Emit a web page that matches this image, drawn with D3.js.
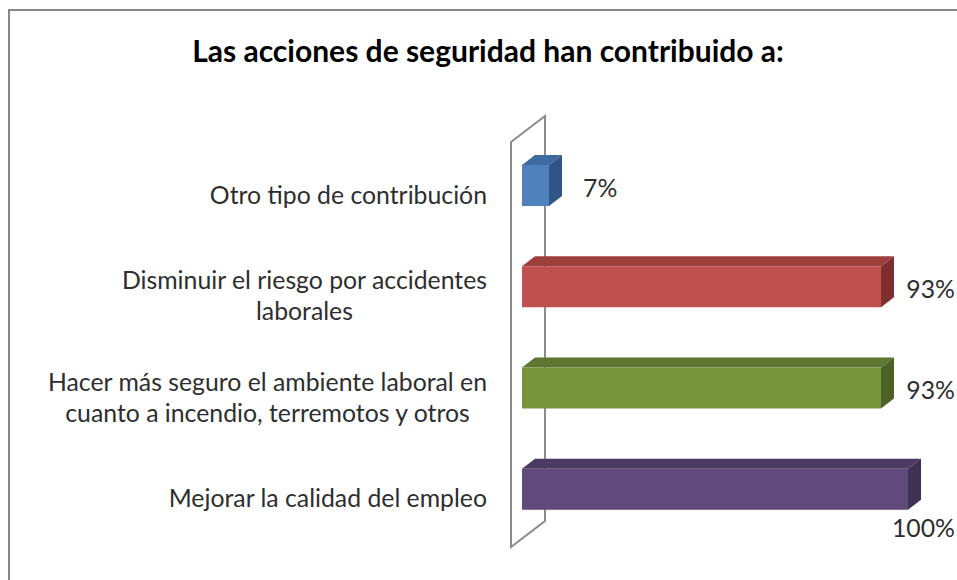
<!DOCTYPE html>
<html>
<head>
<meta charset="utf-8">
<script src="https://cdn.jsdelivr.net/npm/d3@7"></script>
<style>
  body { margin: 0; background: #fff; }
  svg text { font-family: Lato, "Open Sans", sans-serif; fill: #2e2e2e; }
</style>
</head>
<body>
<div id="chart"></div>
<script>
// data
const title = 'Las acciones de seguridad han contribuido a:';
const categories = [
  ['Otro tipo de contribución'],
  ['Disminuir el riesgo por accidentes', 'laborales'],
  ['Hacer más seguro el ambiente laboral en', 'cuanto a incendio, terremotos y otros'],
  ['Mejorar la calidad del empleo']
];
const values = [0.07, 0.93, 0.93, 1.00];
const valueLabels = ['7%', '93%', '93%', '100%'];

// face colours: front, top, side
const frontColors = ['#4f81bd', '#c0504d', '#77933c', '#604a7b'];
const topColors = ['#3e6aa2', '#9d3f3d', '#5f7630', '#4b3b62'];
const sideColors = ['#2f5586', '#7f302e', '#4d6127', '#3e3152'];

const W = 957, H = 580;
const svg = d3.select('#chart').append('svg').attr('width', W).attr('height', H);

// chart border
svg.append('rect')
  .attr('x', 9).attr('y', 10).attr('width', 1000).attr('height', 700)
  .attr('fill', 'none').attr('stroke', '#878787').attr('stroke-width', 2);

svg.append('text')
  .attr('x', 488).attr('y', 62)
  .attr('text-anchor', 'middle')
  .style('font-size', '30px').style('font-weight', 'bold').style('fill', '#000')
  .text(title);

const x = d3.scaleLinear().domain([0, 1]).range([522, 908]);
const y = d3.scaleBand().domain(d3.range(categories.length)).range([142, 547]);

const wallDx = 34, wallDy = -26;
const barDx = 13, barDy = -10;
const barOff = 23, barH = 41;
const fs = '24.8px';

// thin 3D wall
const x0 = 511, yTop = y.range()[0], yBot = y.range()[1];
svg.append('path')
  .attr('d', `M${x0},${yTop}L${x0 + wallDx},${yTop + wallDy}L${x0 + wallDx},${yBot + wallDy}L${x0},${yBot}Z`)
  .attr('fill', 'none').attr('stroke', '#8c8c8c').attr('stroke-width', 2);

// bars
const bars = svg.selectAll('g.bar')
  .data(values)
  .enter().append('g').attr('class', 'bar');

bars.append('path')
  .attr('fill', (d, i) => topColors[i])
  .attr('d', (d, i) => {
    const x1 = x(0), x2 = x(d), y1 = y(i) + barOff;
    return `M${x1},${y1}L${x1 + barDx},${y1 + barDy}L${x2 + barDx},${y1 + barDy}L${x2},${y1}Z`;
  });

bars.append('path')
  .attr('fill', (d, i) => sideColors[i])
  .attr('d', (d, i) => {
    const x2 = x(d), y1 = y(i) + barOff;
    return `M${x2},${y1}L${x2 + barDx},${y1 + barDy}L${x2 + barDx},${y1 + barH + barDy}L${x2},${y1 + barH}Z`;
  });

bars.append('rect')
  .attr('fill', (d, i) => frontColors[i])
  .attr('x', x(0))
  .attr('y', (d, i) => y(i) + barOff)
  .attr('width', d => x(d) - x(0))
  .attr('height', barH);

// category labels, centred block, right edge at 487
const lineH = 31;
categories.forEach((lines, i) => {
  const cy = y(i) + y.bandwidth() / 2;
  const t = svg.append('text')
    .attr('text-anchor', 'middle')
    .style('font-size', fs);
  lines.forEach((ln, j) => {
    t.append('tspan')
      .attr('x', 0)
      .attr('y', cy + 11 + (j - (lines.length - 1) / 2) * lineH)
      .text(ln);
  });
  const w = t.node().getBBox().width;
  t.selectAll('tspan').attr('x', 487 - w / 2);
});

// value labels
svg.selectAll('text.val')
  .data(values)
  .enter().append('text')
  .attr('class', 'val')
  .style('font-size', fs)
  .attr('y', (d, i) => d >= 1 ? y(i) + barOff + barH + 27 : y(i) + barOff + barH / 2 + 11)
  .text((d, i) => valueLabels[i])
  .each(function (d) {
    const w = this.getComputedTextLength();
    const lx = d >= 1 ? 955 - w : Math.min(x(d) + barDx + 21, 955 - w);
    d3.select(this).attr('x', lx);
  });
</script>
</body>
</html>
